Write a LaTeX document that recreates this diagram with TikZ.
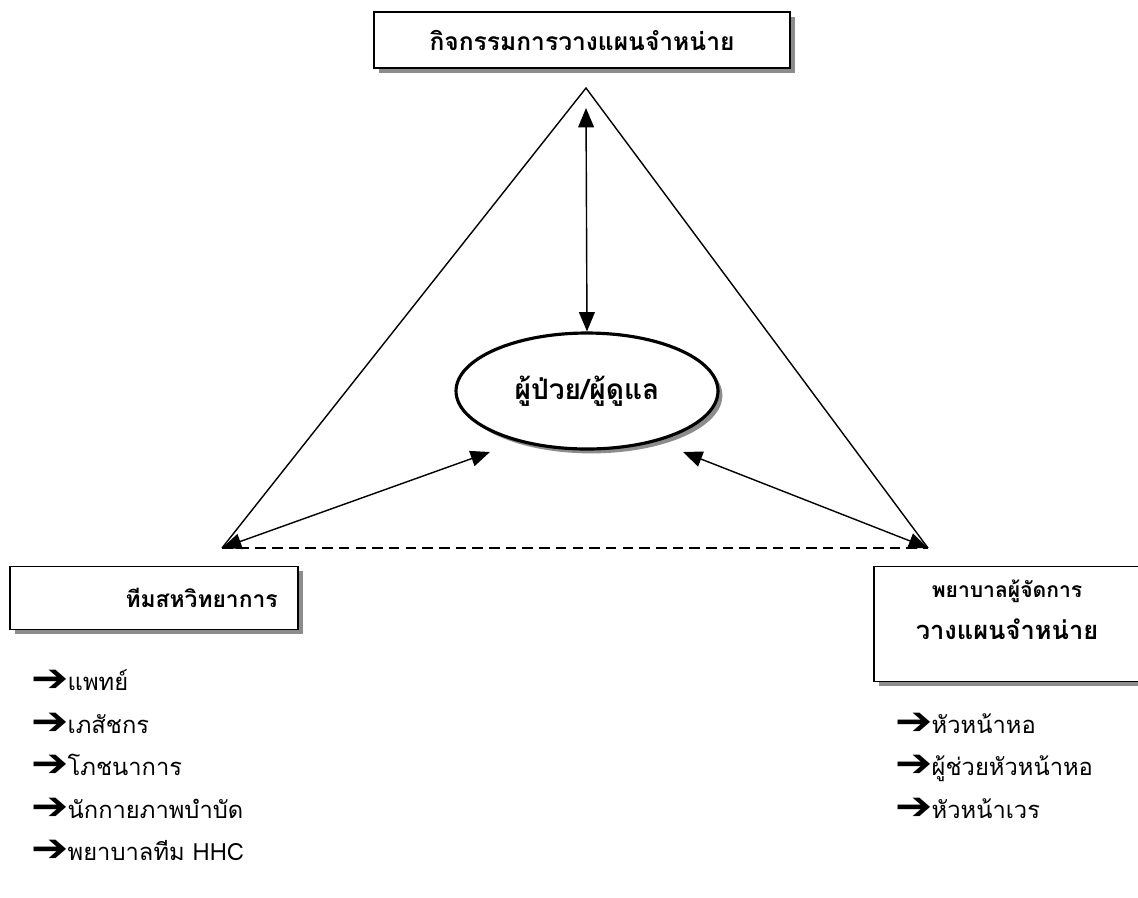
\documentclass[tikz,border=0pt]{standalone}
\usepackage{fontspec}
\newfontfamily\thaifont[Script=Thai]{Loma}
\newfontfamily\dejavufont{DejaVu Sans}
\usepackage{tikz}
\usetikzlibrary{arrows.meta,positioning,calc,shadows,shapes.geometric}
\newcommand{\listarrow}{\smash{\raisebox{-1pt}{\scalebox{1.15}[1.0]{\dejavufont\bfseries\fontsize{22}{22}\selectfont ➔}}}\hspace{-0.5pt}}

\begin{document}
\begin{tikzpicture}[
        x=0.02cm, y=-0.02cm,
        every node/.style={font=\thaifont},
        planbox/.style={rectangle, draw=black, line width=1.1pt, fill=white, inner sep=0pt,
            drop shadow={shadow xshift=2.8pt, shadow yshift=-2.8pt, fill=black!45, opacity=1}},
        carer/.style={ellipse, draw=black, line width=1.8pt, fill=white, minimum width=5.24cm, minimum height=2.32cm,
            drop shadow={shadow xshift=2.5pt, shadow yshift=-2.5pt, fill=black!45, opacity=1}},
        side/.style={line width=0.8pt},
        link/.style={{Triangle[length=11pt,width=9pt]}-{Triangle[length=11pt,width=9pt]}, line width=0.8pt},
        member/.style={anchor=base west, inner sep=0pt, font=\thaifont\fontsize{13.5}{13.5}\selectfont}
    ]
        \useasboundingbox (0,0) rectangle (1138,897);

        % Triangle corners
        \coordinate (apex) at (586,88);
        \coordinate (left) at (222,548);
        \coordinate (right) at (928,548);

        % Boxes
        \node[planbox, minimum width=8.32cm, minimum height=1.12cm, font=\thaifont\bfseries\fontsize{14}{14}\selectfont] (plan) at (582,40) {กิจกรรมการวางแผนจำหน่าย};
        \node[planbox, minimum width=5.76cm, minimum height=1.26cm, text width=4.95cm, align=right, font=\thaifont\bfseries\fontsize{13}{13}\selectfont] (team) at (154,598) {ทีมสหวิทยาการ};
        \node[planbox, minimum width=5.32cm, minimum height=2.3cm, align=center] (nurse) at (1007,624)
            {{\bfseries\fontsize{12}{12}\selectfont พยาบาลผู้จัดการ}\\[8pt]{\bfseries\fontsize{14.5}{14.5}\selectfont วางแผนจำหน่าย}\\[4pt]};

        % Patient / carer
        \node[carer, font=\thaifont\bfseries\fontsize{16}{16}\selectfont] (patient) at (587,391) {ผู้ป่วย/ผู้ดูแล};

        % Triangle
        \draw[side] (left) -- (apex) -- (right);
        \draw[side, dashed, dash pattern=on 6pt off 3.5pt] (left) -- (right);

        % Links to the patient
        \coordinate (vtop) at (586,108);
        \coordinate (lend) at (490,452);
        \coordinate (rend) at (683,452);
        \draw[link] (vtop) -- (patient.north);
        \draw[link] (left) -- (lend);
        \draw[link] (right) -- (rend);

        % Team members
        \node[member] (doc) at (31,690) {\listarrow แพทย์};
        \node[member] (pharm) at (31,733) {\listarrow เภสัชกร};
        \node[member] (diet) at (31,775) {\listarrow โภชนาการ};
        \node[member] (physio) at (31,818) {\listarrow นักกายภาพบำบัด};
        \node[member] (hhc) at (31,860) {\listarrow พยาบาลทีม HHC};

        % Ward staff
        \node[member] (head) at (895,733) {\listarrow หัวหน้าหอ};
        \node[member] (deputy) at (895,775) {\listarrow ผู้ช่วยหัวหน้าหอ};
        \node[member] (shift) at (895,818) {\listarrow หัวหน้าเวร};
    \end{tikzpicture}
\end{document}
